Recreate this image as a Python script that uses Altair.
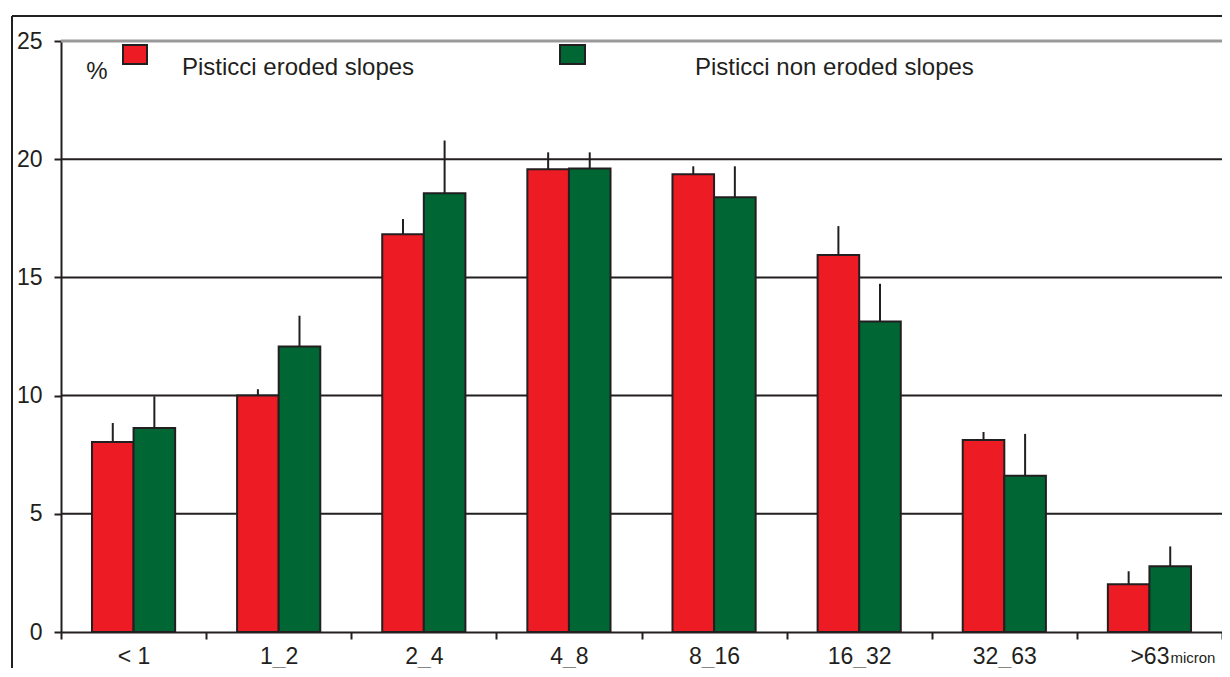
import altair as alt
import pandas as pd

categories = ["< 1", "1_2", "2_4", "4_8", "8_16", "16_32", "32_63", ">63"]
series = ["Pisticci eroded slopes", "Pisticci non eroded slopes"]
eroded = [8.04, 10.0, 16.83, 19.57, 19.36, 15.95, 8.12, 2.02]
eroded_err = [0.80, 0.27, 0.64, 0.72, 0.34, 1.22, 0.34, 0.55]
non_eroded = [8.63, 12.08, 18.56, 19.61, 18.39, 13.13, 6.61, 2.78]
non_eroded_err = [1.34, 1.30, 2.23, 0.68, 1.31, 1.60, 1.77, 0.84]
y_ticks = [0, 5, 10, 15, 20, 25]
gridlines = [5, 10, 15, 20]
top_line = [25]
colors = ["#ED1C24", "#006633"]

FONT = "Liberation Sans"
INK = "#231F20"
W, H = 1161, 591
LPAD = 6
XFS = 23

rows = []
for i, c in enumerate(categories):
    rows.append({"cat": c, "series": series[0], "value": eroded[i], "upper": eroded[i] + eroded_err[i]})
    rows.append({"cat": c, "series": series[1], "value": non_eroded[i], "upper": non_eroded[i] + non_eroded_err[i]})
df = pd.DataFrame(rows)

x_enc = alt.X(
    "cat:N", sort=categories, title=None,
    scale=alt.Scale(domain=categories, paddingInner=0, paddingOuter=0),
    axis=alt.Axis(labelAngle=0, tickBand="extent", tickSize=7, tickWidth=2, tickColor=INK,
                  domainColor=INK, domainWidth=2, labelFontSize=XFS, labelFont=FONT,
                  labelColor=INK, labelPadding=LPAD, grid=False),
)
xoff_enc = alt.XOffset("series:N", sort=series,
                       scale=alt.Scale(domain=series, paddingInner=0, paddingOuter=0.745))
y_scale = alt.Scale(domain=[0, 25], nice=False)
y_enc = alt.Y(
    "value:Q", scale=y_scale, title=None,
    axis=alt.Axis(values=y_ticks, tickSize=7, tickWidth=2, tickColor=INK, domainColor=INK,
                  domainWidth=2, labelFontSize=23, labelFont=FONT, labelColor=INK,
                  labelPadding=12, grid=False),
)

grid = alt.Chart(pd.DataFrame({"v": gridlines})).mark_rule(color=INK, strokeWidth=2).encode(
    y=alt.Y("v:Q", scale=y_scale)
)
topl = alt.Chart(pd.DataFrame({"v": top_line})).mark_rule(color="#999999", strokeWidth=3).encode(
    y=alt.Y("v:Q", scale=y_scale)
)

bars = alt.Chart(df).mark_bar(stroke=INK, strokeWidth=2).encode(
    x=x_enc, xOffset=xoff_enc, y=y_enc,
    color=alt.Color("series:N", scale=alt.Scale(domain=series, range=colors), legend=None),
)
errs = alt.Chart(df).mark_rule(color=INK, strokeWidth=2).encode(
    x=alt.X("cat:N", sort=categories), xOffset=xoff_enc,
    y=alt.Y("value:Q", scale=y_scale), y2="upper:Q",
)

one = pd.DataFrame({"a": [0]})
frame_top = alt.Chart(one).mark_rule(color=INK, strokeWidth=2).encode(
    x=alt.value(-49), x2=alt.value(W + 20), y=alt.value(-25)
)
frame_left = alt.Chart(one).mark_rule(color=INK, strokeWidth=2).encode(
    x=alt.value(-49), y=alt.value(-25), y2=alt.value(H + 60)
)
leg_red = alt.Chart(one).mark_rect(fill=colors[0], stroke=INK, strokeWidth=2).encode(
    x=alt.value(62), x2=alt.value(86), y=alt.value(4), y2=alt.value(23)
)
leg_green = alt.Chart(one).mark_rect(fill=colors[1], stroke=INK, strokeWidth=2).encode(
    x=alt.value(499), x2=alt.value(524), y=alt.value(4), y2=alt.value(23)
)
pct = alt.Chart(one).mark_text(text="%", font=FONT, fontSize=24, color=INK, align="center",
                               baseline="middle").encode(x=alt.value(36), y=alt.value(31))
t1 = alt.Chart(one).mark_text(text=series[0], font=FONT, fontSize=24, color=INK, align="left",
                              baseline="middle").encode(x=alt.value(121), y=alt.value(27))
t2 = alt.Chart(one).mark_text(text=series[1], font=FONT, fontSize=24, color=INK, align="left",
                              baseline="middle").encode(x=alt.value(634), y=alt.value(27))
micron = alt.Chart(pd.DataFrame({"cat": [">63"]})).mark_text(
    text="micron", font=FONT, fontSize=15, color=INK, align="left", baseline="alphabetic", dx=21
).encode(x=alt.X("cat:N", sort=categories), y=alt.value(H + 7 + LPAD + 18))

chart = alt.layer(grid, topl, bars, errs, frame_top, frame_left, leg_red, leg_green, pct, t1, t2, micron).properties(
    width=W, height=H,
    autosize=alt.AutoSizeParams(type="none"),
    padding={"left": 53, "top": 33, "right": 0, "bottom": 36},
).configure_view(stroke=None).configure(background="white")

chart.save("out.html", embed_options={"renderer": "svg", "actions": False})
